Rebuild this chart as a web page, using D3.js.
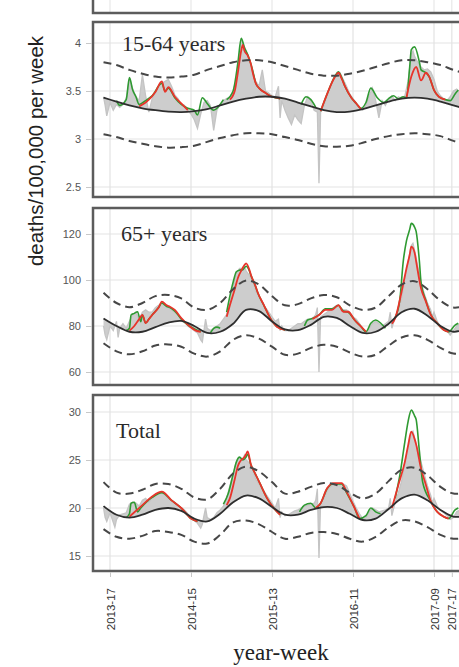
<!DOCTYPE html>
<html><head><meta charset="utf-8">
<script src="https://cdn.jsdelivr.net/npm/d3@7"></script>
<style>body{margin:0;background:#fff}</style>
</head><body><svg id="c" width="459" height="667"></svg>
<script>
// ---------- DATA ----------
const xTickWeeks  = [16, 66, 116, 166, 216, 227];
const xTickLabels = ['2013-17','2014-15','2015-13','2016-11','2017-09','2017-17'];

const y1Ticks = [2.5, 3, 3.5, 4];   const y1Labels = ['2.5','3','3.5','4'];
const y2Ticks = [60, 80, 100, 120]; const y2Labels = ['60','80','100','120'];
const y3Ticks = [15, 20, 25, 30];   const y3Labels = ['15','20','25','30'];

const panelNames = ['15-64 years', '65+ years', 'Total'];

const smoothWeeks = [12,20,28,36,44,52,60,68,76,84,92,100,108,116,124,132,140,148,156,164,172,180,188,196,204,212,220,228,236];

const base1  = [3.43,3.39,3.35,3.32,3.30,3.285,3.28,3.29,3.31,3.35,3.39,3.42,3.44,3.44,3.42,3.38,3.34,3.30,3.28,3.285,3.31,3.35,3.39,3.42,3.43,3.42,3.39,3.35,3.31];
const upper1 = [3.80,3.77,3.72,3.68,3.65,3.64,3.65,3.67,3.72,3.76,3.80,3.82,3.82,3.80,3.76,3.72,3.68,3.66,3.66,3.68,3.71,3.75,3.79,3.82,3.82,3.80,3.77,3.72,3.68];
const lower1 = [3.05,3.02,2.98,2.95,2.925,2.91,2.915,2.93,2.97,3.01,3.04,3.06,3.06,3.05,3.02,2.99,2.95,2.925,2.92,2.93,2.96,3.00,3.03,3.05,3.06,3.05,3.03,2.98,2.94];

const base2  = [83.3,80,77.5,77.5,79.5,81.5,82.2,80,77,77.5,81,87,86.5,82,78.5,78.2,80.5,84,83.5,80,77,77.5,81,86,87.5,84.5,80,77.5,79];
const upper2 = [94.5,90,88.2,90,93,93.5,92,88,87,90,96,99.8,98,93,89,89.5,92,93.5,92.5,89,87,88,93,98,99.5,96,91,88,89];
const lower2 = [72.5,69,67.7,69,71.5,72,71,68,66.7,69,74,76,74.5,71,67.5,68,70.5,71.8,71,68.5,66.7,67.5,71.5,75,76,74,70.5,68,68.5];

const base3  = [20.2,19.3,19.0,19.3,19.8,20.0,19.7,18.9,18.6,19.4,20.6,21.3,21.0,20.1,19.3,19.3,19.8,20.1,20.0,19.4,18.75,18.9,19.9,21.0,21.4,20.8,19.8,19.1,19.2];
const upper3 = [22.7,21.6,21.5,21.9,22.5,22.5,22.0,21.1,20.9,22.0,23.6,24.3,23.8,22.7,21.5,21.7,22.2,22.6,22.4,21.6,21.0,21.5,22.8,24.0,24.2,23.4,22.2,21.5,21.6];
const lower3 = [17.8,17.0,16.8,17.1,17.6,17.5,17.2,16.5,16.3,17.2,18.5,18.7,18.3,17.5,16.8,17.0,17.4,17.5,17.3,16.8,16.5,17.0,18.0,18.7,18.6,18.0,17.2,16.8,16.9];

// observed weekly deaths [week, value]
const obs1 = [[12,3.44],[13,3.35],[14,3.24],[16,3.38],[18,3.30],[20,3.36],[22,3.33],[24,3.36],[26,3.42],[28,3.63],[30,3.52],[32,3.44],[34,3.40],[36,3.67],[38,3.45],[40,3.28],[42,3.42],[44,3.48],[46,3.55],[48,3.58],[50,3.60],[52,3.62],[54,3.55],[56,3.46],[58,3.42],[60,3.36],[62,3.35],[64,3.30],[66,3.26],[68,3.20],[70,3.11],[72,3.26],[74,3.38],[76,3.40],[78,3.35],[80,3.09],[82,3.30],[84,3.36],[86,3.40],[88,3.42],[90,3.44],[92,3.50],[94,3.62],[96,3.90],[97,4.05],[98,4.00],[100,3.92],[102,3.82],[104,3.70],[106,3.60],[108,3.55],[110,3.72],[112,3.50],[114,3.48],[116,3.45],[118,3.44],[120,3.55],[121,3.22],[122,3.40],[124,3.30],[126,3.22],[128,3.15],[130,3.25],[132,3.20],[134,3.16],[136,3.35],[138,3.44],[140,3.40],[142,3.30],[144,3.28],[145,2.54],[146,3.28],[148,3.35],[150,3.45],[152,3.55],[154,3.62],[156,3.66],[158,3.69],[160,3.62],[162,3.55],[164,3.47],[166,3.42],[168,3.38],[170,3.32],[172,3.30],[174,3.35],[176,3.45],[178,3.53],[180,3.40],[182,3.22],[184,3.40],[186,3.35],[188,3.42],[190,3.45],[192,3.40],[194,3.44],[196,3.42],[198,3.45],[200,3.60],[202,3.88],[203,3.92],[204,3.86],[206,3.80],[208,3.75],[210,3.72],[212,3.73],[214,3.70],[216,3.62],[218,3.50],[220,3.45],[222,3.42],[224,3.40],[226,3.44],[228,3.50],[230,3.52],[232,3.48]];
const obs2 = [[12,80],[13,76],[14,74],[16,80],[18,78],[20,82],[21,75],[22,79],[24,81],[26,79],[28,82],[30,85],[32,86],[34,83],[36,86],[38,87],[40,86],[42,86],[44,88],[46,89],[48,90],[50,89],[52,88],[54,87],[56,86],[58,85],[60,83],[62,82],[64,80],[66,79],[68,78],[70,77],[72,74],[73,73],[74,78],[75,83],[76,79],[78,78],[80,79],[82,80],[84,81],[86,83],[88,85],[90,90],[92,97],[94,103],[96,105],[98,105],[99,106],[100,104],[102,102],[104,100],[106,95],[108,93],[110,90],[112,88],[114,86],[116,84],[118,82],[120,83],[121,78],[122,80],[124,78],[126,78],[128,79],[130,80],[132,81],[134,81],[136,82],[138,83],[140,83],[142,84],[143,85],[144,88],[145,60],[146,84],[148,85],[150,86],[152,87],[154,88],[156,89],[158,88],[160,87],[162,87],[164,86],[166,84],[168,83],[170,81],[172,79],[174,77],[176,79],[178,81],[180,82],[182,81],[184,80],[186,81],[188,82],[189,86],[190,79],[192,84],[194,87],[196,92],[198,100],[200,108],[202,115],[203,116],[204,113],[206,106],[208,99],[210,94],[212,90],[214,87],[215,84],[216,86],[218,82],[220,80],[222,79],[224,78],[226,76],[228,78],[230,80],[232,81]];
const obs3 = [[12,20.0],[13,19.0],[14,18.6],[16,19.5],[18,18.5],[19,18.0],[20,18.8],[22,19.3],[24,19.4],[26,19.5],[28,20.4],[30,20.6],[32,20.5],[34,20.2],[36,20.8],[38,21.0],[40,20.6],[42,21.0],[44,21.3],[46,21.5],[48,21.6],[50,21.3],[52,21.0],[54,20.8],[56,20.6],[58,20.3],[60,20.0],[62,19.8],[64,19.4],[66,19.0],[68,18.7],[70,18.4],[72,17.9],[73,18.3],[74,19.2],[75,20.0],[76,19.0],[78,18.8],[80,19.0],[82,19.5],[84,19.8],[86,20.2],[88,21.0],[90,22.3],[92,23.5],[94,24.8],[96,25.2],[98,25.1],[99,25.5],[100,25.0],[102,24.7],[104,24.0],[106,23.0],[108,22.5],[110,22.0],[112,21.5],[114,21.0],[116,20.5],[118,20.0],[120,21.0],[121,19.0],[122,19.6],[124,19.2],[126,19.3],[128,19.5],[130,19.7],[132,19.8],[134,20.0],[136,20.2],[138,20.3],[140,20.4],[142,20.5],[143,20.8],[144,22.0],[145,14.8],[146,20.5],[148,21.0],[150,21.8],[152,22.2],[154,22.4],[156,22.5],[158,22.4],[160,22.5],[162,22.3],[164,21.5],[166,20.7],[168,20.0],[170,19.4],[172,18.9],[174,19.0],[176,19.6],[178,20.0],[180,19.8],[182,19.6],[184,19.7],[186,19.8],[188,20.0],[189,21.0],[190,19.2],[192,20.6],[194,21.6],[196,22.8],[198,24.5],[200,26.3],[202,27.8],[203,28.0],[204,27.3],[206,26.0],[208,24.8],[210,23.5],[212,22.3],[214,21.3],[215,20.5],[216,21.0],[218,20.2],[220,19.8],[222,19.5],[224,19.2],[226,18.8],[228,19.0],[230,19.6],[232,19.8]];

// estimate A (red) excursions
const red1 = [
 [[34,3.34],[38,3.38],[40,3.41],[44,3.49],[48,3.60],[50,3.49],[52,3.54],[56,3.44],[60,3.37],[64,3.30]],
 [[90,3.41],[93,3.50],[95,3.70],[97,3.92],[98,3.98],[99,3.92],[101,3.87],[103,3.78],[104,3.70],[106,3.58],[108,3.53],[112,3.48],[116,3.44],[119,3.43],[121,3.42]],
 [[146,3.29],[148,3.38],[151,3.51],[155,3.65],[157,3.69],[159,3.63],[161,3.55],[165,3.43],[168,3.37],[171,3.31]],
 [[199,3.43],[202,3.65],[205,3.75],[208,3.61],[211,3.69],[213,3.65],[216,3.51],[219,3.44],[223,3.41]]
];
const red2 = [
 [[28,78],[31,80],[34,83],[36,84.8],[38,81.3],[40,83],[42,84.8],[46,88],[48,90.6],[51,89],[53,88.4],[56,87],[60,83.4],[65,80],[69,78],[72,77.5]],
 [[88,84],[90,89],[93,96],[95,101],[97,104],[99,106.5],[100,107.2],[102,104.5],[103,102.2],[106,97],[107,94.9],[111,89.1],[115,83.3],[119,79.7],[124,78.3]],
 [[141,83],[145,84.8],[149,87],[153,87],[157,89.1],[160,86.2],[163,86.2],[167,82.6],[171,79.7],[174,77.5]],
 [[190,81],[192,83.3],[196,94.9],[199,105],[201,111],[202,114.5],[204,112],[205,108],[208,96.4],[211,90.6],[214,84.8],[218,81.2],[222,78.3],[225,77.5]]
];
const red3 = [
 [[28,19.1],[30,19.4],[36,20.3],[42,21.2],[48,21.7],[54,20.8],[60,20.0],[66,18.9],[70,18.6]],
 [[88,20.3],[90,21.0],[93,23.0],[95,24.4],[97,25.0],[99,25.3],[100,25.6],[101,25.9],[103,24.5],[105,23.8],[109,22.4],[113,21.0],[117,20.0],[121,19.3]],
 [[143,20.0],[146,20.5],[150,22.05],[154,22.6],[159,22.6],[162,21.7],[167,20.0],[170,18.9]],
 [[190,20.0],[194,22.4],[198,24.8],[200,26.5],[202,27.95],[204,27.2],[205,26.6],[208,24.1],[211,22.4],[214,20.7],[218,19.6],[222,19.1],[225,18.9]]
];
// estimate B (green) excursions
const green1 = [
 [[20,3.40],[22,3.35],[26,3.41],[28,3.64],[30,3.51],[32,3.44],[34,3.36],[38,3.40],[42,3.45],[48,3.58],[50,3.50],[52,3.53],[56,3.43],[60,3.36],[64,3.32],[68,3.30],[70,3.25],[73,3.43],[76,3.37],[80,3.30],[86,3.41]],
 [[88,3.41],[92,3.50],[95,3.80],[97,4.05],[99,3.95],[101,3.88],[104,3.72],[106,3.58],[108,3.53],[112,3.48],[116,3.44],[121,3.42]],
 [[134,3.36],[137,3.44],[140,3.41],[143,3.33]],
 [[146,3.29],[151,3.51],[155,3.66],[157,3.70],[159,3.64],[161,3.55],[165,3.43],[168,3.37],[171,3.32],[174,3.38],[177,3.53],[181,3.43],[185,3.38],[188,3.42],[191,3.45],[194,3.42],[197,3.44],[199,3.43],[201,3.75],[202,3.93],[204,3.96],[207,3.80],[208,3.72],[211,3.69],[213,3.65],[216,3.51],[219,3.44],[223,3.41],[226,3.40],[229,3.47],[231,3.51]]
];
const green2 = [
 [[26,78],[28,79],[29,84.8],[31,85.5],[33,86.2],[35,81.9],[36,84.8],[38,81.3],[40,83],[42,84.8],[46,88],[48,90],[51,88.5],[53,88],[56,86.5],[60,83],[65,80],[72,77.5]],
 [[78,77],[80,79],[82,79.5],[84,79]],
 [[88,86],[90,93],[92,99],[94,103.6],[96,104.3],[98,104.5],[100,106],[102,104],[103,102],[106,97],[107,94.9],[111,89],[115,83.3],[119,79.7],[124,78.3]],
 [[136,80],[138,82.6],[141,83.3],[145,84.8],[149,87.5],[153,87.5],[157,89],[160,86.5],[163,86],[167,82.6],[171,79.7],[174,77.5],[177,81.2],[180,82.6],[183,81.3],[186,79]],
 [[192,83.5],[195,92],[197,108],[199,117],[201,122],[202,124.6],[204,123],[205,121],[207,108],[208,99],[211,91],[214,85],[218,81.2],[222,78.3],[225,77.5],[229,80.4],[231,81.2]]
];
const green3 = [
 [[26,19.0],[28,19.4],[29,20.5],[31,20.6],[33,19.6],[35,20.0],[42,21.1],[48,21.6],[54,20.8],[60,20.0],[66,18.9],[70,18.6]],
 [[86,20.4],[89,21.5],[92,23.5],[94,24.8],[96,25.3],[98,25.0],[100,25.3],[101,25.6],[103,24.5],[105,23.8],[109,22.4],[113,21.0],[117,20.0],[121,19.3]],
 [[133,19.6],[136,20.3],[140,20.5],[143,20.0],[146,20.5],[150,22.0],[154,22.5],[159,22.5],[162,21.6],[167,20.0],[170,18.9],[174,19.2],[177,20.0],[180,19.6],[183,19.4]],
 [[192,21.0],[195,23.5],[198,26.9],[200,29.0],[202,30.2],[204,29.6],[205,29.2],[207,25.9],[209,22.7],[214,20.7],[218,19.6],[222,19.1],[225,18.9],[229,19.8],[231,20.0]]
];

// ---------- DRAW ----------
const svg = d3.select('#c');
svg.append('rect').attr('width',459).attr('height',667).attr('fill','#fff');

const x = d3.scaleLinear().domain([16, 216]).range([110, 434]);
const PL = 93, PR = 500;
const gridCol = '#e3e3e3', borderCol = '#5c5c5c';

const panels = [
  {name:panelNames[0], top:22,  bottom:197, dom:[2.5,4], rng:[187,43],  ticks:y1Ticks, labels:y1Labels, base:base1, up:upper1, lo:lower1, obs:obs1, red:red1, green:green1, lx:122, ly:51},
  {name:panelNames[1], top:208, bottom:385, dom:[60,120], rng:[372,234], ticks:y2Ticks, labels:y2Labels, base:base2, up:upper2, lo:lower2, obs:obs2, red:red2, green:green2, lx:121, ly:241},
  {name:panelNames[2], top:395, bottom:571, dom:[15,30], rng:[556,412], ticks:y3Ticks, labels:y3Labels, base:base3, up:upper3, lo:lower3, obs:obs3, red:red3, green:green3, lx:116, ly:438}
];

// stub of the panel above (cropped)
svg.append('g').selectAll('line').data(xTickWeeks).join('line')
  .attr('x1', d=>x(d)).attr('x2', d=>x(d)).attr('y1',0).attr('y2',13)
  .attr('stroke', gridCol);
svg.append('path').attr('d', `M${PL},0 V13 H${PR}`).attr('fill','none')
  .attr('stroke', borderCol).attr('stroke-width', 2.5);

panels.forEach((p, i) => {
  const y = d3.scaleLinear().domain(p.dom).range(p.rng);
  const g = svg.append('g');
  const cid = 'clip' + i;
  svg.append('clipPath').attr('id', cid).append('rect')
    .attr('x', PL).attr('y', p.top).attr('width', PR-PL).attr('height', p.bottom-p.top);
  const inner = g.append('g').attr('clip-path', `url(#${cid})`);

  // gridlines
  inner.selectAll('.hg').data(p.ticks).join('line')
    .attr('x1', PL).attr('x2', PR).attr('y1', d=>y(d)).attr('y2', d=>y(d))
    .attr('stroke', gridCol).attr('stroke-width', 1.2);
  inner.selectAll('.vg').data(xTickWeeks).join('line')
    .attr('x1', d=>x(d)).attr('x2', d=>x(d)).attr('y1', p.top).attr('y2', p.bottom)
    .attr('stroke', gridCol).attr('stroke-width', 1.2);

  const smooth = (vals) => smoothWeeks.map((w, k) => [w, vals[k]]);
  const baseAt = d3.scaleLinear().domain(smoothWeeks).range(p.base);

  // grey ribbon between observed and baseline
  inner.append('path').datum(p.obs)
    .attr('d', d3.area().x(d=>x(d[0])).y0(d=>y(baseAt(d[0]))).y1(d=>y(d[1])))
    .attr('fill', '#cdcdcd').attr('stroke', 'none');
  inner.append('path').datum(p.obs)
    .attr('d', d3.line().x(d=>x(d[0])).y(d=>y(d[1])))
    .attr('fill', 'none').attr('stroke', '#c4c4c4').attr('stroke-width', 1.3);

  const segLine = d3.line().x(d=>x(d[0])).y(d=>y(d[1])).curve(d3.curveMonotoneX);
  inner.selectAll('.green').data(p.green).join('path')
    .attr('d', segLine).attr('fill','none').attr('stroke', '#2f9a32').attr('stroke-width', 1.6);
  inner.selectAll('.red').data(p.red).join('path')
    .attr('d', segLine).attr('fill','none').attr('stroke', '#e8342b').attr('stroke-width', 1.8);

  const sm = d3.line().x(d=>x(d[0])).y(d=>y(d[1])).curve(d3.curveCatmullRom.alpha(0.5));
  inner.append('path').datum(smooth(p.base)).attr('d', sm)
    .attr('fill','none').attr('stroke', '#2e2e2e').attr('stroke-width', 1.8);
  [p.up, p.lo].forEach(v => {
    inner.append('path').datum(smooth(v)).attr('d', sm)
      .attr('fill','none').attr('stroke', '#474747').attr('stroke-width', 2)
      .attr('stroke-dasharray', '8,5');
  });

  // border
  g.append('rect').attr('x', PL).attr('y', p.top).attr('width', PR-PL).attr('height', p.bottom-p.top)
    .attr('fill','none').attr('stroke', borderCol).attr('stroke-width', 2.5);

  // y axis
  const ax = g.append('g').attr('transform', `translate(${PL-1},0)`)
    .call(d3.axisLeft(y).tickValues(p.ticks).tickFormat((d,k)=>p.labels[k]).tickSize(6).tickPadding(5));
  ax.select('.domain').remove();
  ax.selectAll('line').attr('stroke', '#c8c8c8');
  ax.selectAll('text').attr('fill', '#555').style('font-family','Liberation Sans, Arial, sans-serif')
    .style('font-size','11px');

  // panel label
  g.append('text').attr('x', p.lx).attr('y', p.ly).text(p.name)
    .style('font-family','Liberation Serif, Times New Roman, serif').style('font-size','22px')
    .attr('fill', '#2b2b2b');
});

// x axis under the last panel
const xa = svg.append('g').attr('transform', 'translate(0,572)')
  .call(d3.axisBottom(x).tickValues(xTickWeeks).tickFormat((d,k)=>xTickLabels[k]).tickSize(5));
xa.select('.domain').remove();
xa.selectAll('line').attr('stroke', '#c8c8c8');
xa.selectAll('text')
  .attr('transform', 'rotate(-90)').attr('x', -16).attr('y', 0).attr('dy', '0.35em')
  .style('text-anchor', 'end').attr('fill', '#333')
  .style('font-family','Liberation Sans, Arial, sans-serif').style('font-size','11.5px');

// axis titles
svg.append('text').attr('transform', 'translate(43,151) rotate(-90)')
  .attr('text-anchor','middle').text('deaths/100,000 per week')
  .style('font-family','Liberation Sans, Arial, sans-serif').style('font-size','20.5px').attr('fill','#222');
svg.append('text').attr('x', 281).attr('y', 660).attr('text-anchor','middle').text('year-week')
  .style('font-family','Liberation Serif, Times New Roman, serif').style('font-size','23px').attr('fill','#222');
</script></body></html>
